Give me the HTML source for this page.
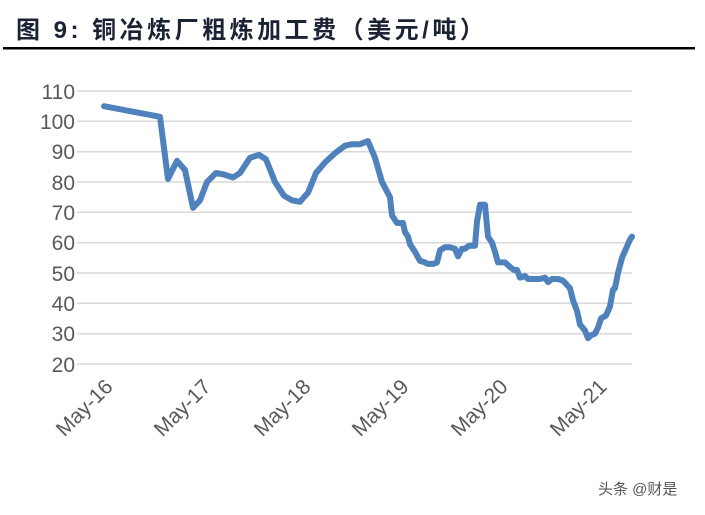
<!DOCTYPE html>
<html><head><meta charset="utf-8"><style>
body{margin:0;background:#fff;width:705px;height:510px;overflow:hidden}
</style></head><body>
<svg width="705" height="510" xmlns="http://www.w3.org/2000/svg">
<text x="16" y="38" font-family="'Liberation Sans','Noto Sans CJK SC',sans-serif" font-size="24" font-weight="bold" fill="#1a2233" letter-spacing="3.5">图 9: 铜冶炼厂粗炼加工费（美元/吨）</text>
<rect x="3" y="47" width="692" height="2.5" fill="#000"/>
<g stroke="#d9d9d9" stroke-width="1.5">
<line x1="77" x2="632" y1="91" y2="91"/><line x1="77" x2="632" y1="121.3" y2="121.3"/>
<line x1="77" x2="632" y1="151.7" y2="151.7"/><line x1="77" x2="632" y1="182" y2="182"/>
<line x1="77" x2="632" y1="212.3" y2="212.3"/><line x1="77" x2="632" y1="242.7" y2="242.7"/>
<line x1="77" x2="632" y1="273" y2="273"/><line x1="77" x2="632" y1="303.3" y2="303.3"/>
<line x1="77" x2="632" y1="333.7" y2="333.7"/><line x1="77" x2="632" y1="364" y2="364"/>
</g>
<g font-family="'Liberation Sans',sans-serif" font-size="21" fill="#595959" text-anchor="end">
<text x="75" y="99">110</text><text x="75" y="129">100</text><text x="75" y="159">90</text>
<text x="75" y="190">80</text><text x="75" y="220">70</text><text x="75" y="250">60</text>
<text x="75" y="281">50</text><text x="75" y="311">40</text><text x="75" y="341">30</text>
<text x="75" y="372">20</text>
<text transform="translate(114,388) rotate(-45)">May-16</text>
<text transform="translate(212,388) rotate(-45)">May-17</text>
<text transform="translate(312,388) rotate(-45)">May-18</text>
<text transform="translate(410,388) rotate(-45)">May-19</text>
<text transform="translate(509,388) rotate(-45)">May-20</text>
<text transform="translate(608,388) rotate(-45)">May-21</text>
</g>
<polyline fill="none" stroke="#4f81bd" stroke-width="6" stroke-linejoin="round" stroke-linecap="round" points="
104,106.2 160,116.8 168,179 177,160.8 185,170 193,207.8 200,200.3 207,182 216,173 224,174.5 233,177.5 240,173 250,157.8 259,154.8 266,159.3 275,182 284,195.7 292,200.3 300,201.8 308,192.7 316,173 325,162.4 335,153.2 345,145.7 352,144.2 360,144.2 368,141.1 375,157.8 382,182 390,197.2 392,215.4 397,223 403,223 405,232.1 408,236.6 410,244.2 415,251.8 420,260.9 425,262.4 428,263.9 433,263.9 437,262.4 440,250.3 445,247.2 450,247.2 455,248.7 458,256.3 462,248.7 465,248.7 469,245.7 475,245.7 477,221.5 480,204.8 485,204.8 488,236.6 492,242.7 495,251.8 498,262.4 505,262.4 510,267 514,270 517,270 520,277.6 525,276 528,279 540,279 545,277.6 548,282.1 552,279 558,279 563,280.6 570,288.2 573,300.3 577,310.9 580,324.6 585,330.6 588,338.2 591,335.2 595,333.7 598,327.6 601,318.5 606,315.5 610,306.4 613,289.7 615,288.2 618,273 622,257.8 626,248.7 630,239.6 632,236.6"/>
<text x="598" y="494" font-family="'Liberation Sans','Noto Sans CJK SC',sans-serif" font-size="15" fill="#555">头条 @财是</text>
</svg>
</body></html>
